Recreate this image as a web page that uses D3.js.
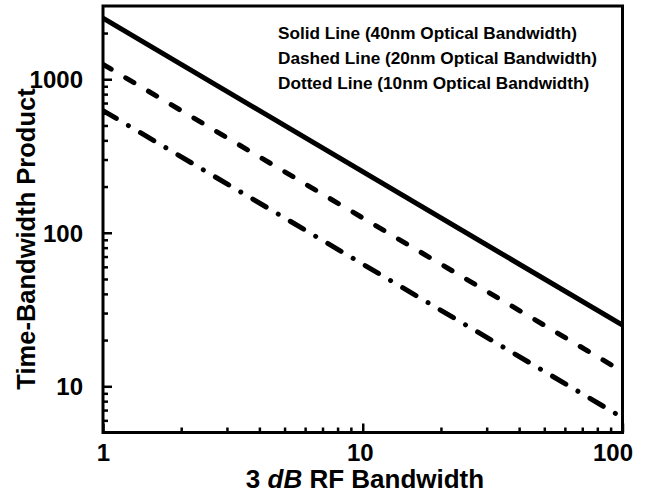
<!DOCTYPE html>
<html>
<head>
<meta charset="utf-8">
<script src="https://cdn.jsdelivr.net/npm/d3@7"></script>
<style>
  body { margin: 0; background: #fff; }
  svg text { font-family: "Liberation Sans", Arial, sans-serif; font-weight: bold; fill: #000; }
</style>
</head>
<body>
<div id="grafico"></div>
<script>
// dados (log-log)
const solidX = [1, 100];
const solidY = [2500, 25];
const dashedX = [1, 96];
const dashedY = [1250, 13];
const dottedX = [1, 100];
const dottedY = [625, 6.25];

const legendas = [
    "Solid Line (40nm Optical Bandwidth)",
    "Dashed Line (20nm Optical Bandwidth)",
    "Dotted Line (10nm Optical Bandwidth)"
];
const xTicks = [1, 10, 100];
const xTickLabels = ["1", "10", "100"];
const yTicks = [10, 100, 1000];
const yTickLabels = ["10", "100", "1000"];

function criarGrafico(target) {
    const largura = 646;
    const altura = 495;
    const esq = 103, dir = 622.5, topo = 6, base = 432.5;

    const svg = d3.select(target)
        .append("svg")
        .attr("width", largura)
        .attr("height", altura);

    const x = d3.scaleLog().domain([1, 100]).range([esq, dir]);
    const y = d3.scaleLog().domain([5, 3000]).range([base, topo]);

    // ticks menores (2..9 em cada decada)
    const xMinor = x.ticks().filter(v => !xTicks.includes(v));
    const yMinor = y.ticks().filter(v => !yTicks.includes(v) && v > 5 && v < 3000);

    const eixoX = svg.append("g").attr("transform", `translate(0,${base})`);
    eixoX.append("g")
        .call(d3.axisBottom(x).tickValues(xMinor).tickSize(-5).tickFormat(""));
    const eixoXMaior = eixoX.append("g")
        .call(d3.axisBottom(x).tickValues(xTicks).tickSize(-9)
            .tickFormat((d, i) => xTickLabels[i]).tickPadding(18));
    eixoXMaior.selectAll(".tick text")
        .style("font-size", "24px")
        .attr("dy", "0.71em")
        .attr("y", 11)
        .attr("dx", (d, i) => i === xTicks.length - 1 ? -10 : (i === 1 ? -3 : 0));

    const eixoY = svg.append("g").attr("transform", `translate(${esq},0)`);
    eixoY.append("g")
        .call(d3.axisLeft(y).tickValues(yMinor).tickSize(-5).tickFormat(""));
    const eixoYMaior = eixoY.append("g")
        .call(d3.axisLeft(y).tickValues(yTicks).tickSize(-9)
            .tickFormat((d, i) => yTickLabels[i]).tickPadding(20));
    eixoYMaior.selectAll(".tick text")
        .style("font-size", "24px")
        .attr("dy", "0.36em");

    svg.selectAll(".domain").remove();
    svg.selectAll(".tick line").attr("stroke", "#000").attr("stroke-width", 2.5);

    // moldura
    svg.append("rect")
        .attr("x", esq).attr("y", topo)
        .attr("width", dir - esq).attr("height", base - topo)
        .attr("fill", "none")
        .attr("stroke", "#000")
        .attr("stroke-width", 3);

    svg.append("clipPath").attr("id", "area")
        .append("rect")
        .attr("x", esq).attr("y", topo)
        .attr("width", dir - esq).attr("height", base - topo);

    const linha = d3.line().x(d => x(d[0])).y(d => y(d[1]));
    const series = [
        { xs: solidX, ys: solidY, dash: null },
        { xs: dashedX, ys: dashedY, dash: "9.5,16.9" },
        { xs: dottedX, ys: dottedY, dash: "15.5,14,0.01,14" }
    ];

    svg.append("g").attr("clip-path", "url(#area)")
        .selectAll("path")
        .data(series)
        .enter()
        .append("path")
        .attr("d", s => linha(d3.zip(s.xs, s.ys)))
        .attr("fill", "none")
        .attr("stroke", "#000")
        .attr("stroke-width", 5)
        .attr("stroke-linecap", (s, i) => i === 0 ? "butt" : "round")
        .attr("stroke-dasharray", s => s.dash);

    // legenda em texto
    svg.selectAll(".legenda")
        .data(legendas)
        .enter()
        .append("text")
        .attr("class", "legenda")
        .attr("x", 278)
        .attr("y", (d, i) => 39 + i * 25)
        .style("font-size", "17.2px")
        .text(d => d);

    // titulos dos eixos
    const tituloX = svg.append("text")
        .attr("x", 365)
        .attr("y", 488)
        .attr("text-anchor", "middle")
        .style("font-size", "26px");
    tituloX.append("tspan").text("3 ");
    tituloX.append("tspan").style("font-style", "italic").text("dB");
    tituloX.append("tspan").text(" RF Bandwidth");

    svg.append("text")
        .attr("transform", "translate(35,239) rotate(-90)")
        .attr("text-anchor", "middle")
        .style("font-size", "25.5px")
        .text("Time-Bandwidth Product");
}

criarGrafico("#grafico");
</script>
</body>
</html>
